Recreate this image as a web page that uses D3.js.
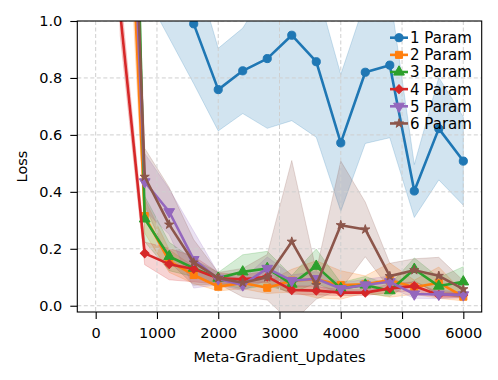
<!DOCTYPE html>
<html>
<head>
<meta charset="utf-8">
<script src="https://cdn.jsdelivr.net/npm/d3@7"></script>
<style>
  body { margin: 0; background: #fff; }
  text { font-family: "DejaVu Sans", sans-serif; }
</style>
</head>
<body>
<div id="chart"></div>
<script>
// meta-gradient update steps (x)
const updates = [0, 400, 800, 1200, 1600, 2000, 2400, 2800, 3200, 3600, 4000, 4400, 4800, 5200, 5600, 6000];

// mean loss per setting
const loss1 = [5.0, 4.0, 1.5, 1.3, 0.99, 0.759, 0.825, 0.868, 0.95, 0.857, 0.572, 0.82, 0.845, 0.403, 0.622, 0.508];
const loss2 = [5.0, 2.2, 0.315, 0.157, 0.108, 0.067, 0.08, 0.063, 0.088, 0.093, 0.073, 0.075, 0.09, 0.065, 0.081, 0.032];
const loss3 = [5.0, 3.8, 0.305, 0.173, 0.132, 0.097, 0.119, 0.131, 0.076, 0.139, 0.061, 0.073, 0.053, 0.128, 0.069, 0.084];
const loss4 = [5.0, 1.03, 0.184, 0.146, 0.129, 0.096, 0.093, 0.102, 0.055, 0.053, 0.046, 0.046, 0.061, 0.069, 0.038, 0.038];
const loss5 = [5.0, 2.4, 0.435, 0.33, 0.162, 0.094, 0.073, 0.131, 0.088, 0.095, 0.06, 0.073, 0.084, 0.041, 0.040, 0.038];
const loss6 = [5.0, 2.8, 0.453, 0.285, 0.152, 0.097, 0.081, 0.10, 0.225, 0.073, 0.283, 0.268, 0.104, 0.125, 0.105, 0.058];

// std (shaded band)
const std1 = [0.5, 0.5, 0.4, 0.36, 0.21, 0.145, 0.15, 0.245, 0.30, 0.265, 0.24, 0.25, 0.255, 0.093, 0.18, 0.155];
const std2 = [0.5, 0.3, 0.06, 0.04, 0.03, 0.015, 0.02, 0.02, 0.04, 0.065, 0.05, 0.03, 0.06, 0.025, 0.055, 0.015];
const std3 = [0.5, 0.4, 0.08, 0.05, 0.03, 0.02, 0.06, 0.06, 0.03, 0.06, 0.02, 0.03, 0.02, 0.04, 0.03, 0.053];
const std4 = [0.5, 0.08, 0.04, 0.055, 0.045, 0.02, 0.015, 0.02, 0.015, 0.015, 0.01, 0.01, 0.015, 0.015, 0.01, 0.01];
const std5 = [0.5, 0.3, 0.1, 0.08, 0.1, 0.02, 0.02, 0.04, 0.02, 0.025, 0.02, 0.02, 0.02, 0.015, 0.015, 0.01];
const std6 = [0.5, 0.3, 0.1, 0.13, 0.08, 0.02, 0.05, 0.08, 0.285, 0.05, 0.225, 0.096, 0.045, 0.04, 0.065, 0.03];

const labels = ["1 Param", "2 Param", "3 Param", "4 Param", "5 Param", "6 Param"];
const colors = ["#1f77b4", "#ff7f0e", "#2ca02c", "#d62728", "#9467bd", "#8c564b"];
const xTicks = [0, 1000, 2000, 3000, 4000, 5000, 6000];
const yTicks = [0.0, 0.2, 0.4, 0.6, 0.8, 1.0];

const means = [loss1, loss2, loss3, loss4, loss5, loss6];
const stds = [std1, std2, std3, std4, std5, std6];

// marker shapes: o s ^ D v *
const markers = [
    {type: d3.symbolCircle, size: 52, rot: 0},
    {type: d3.symbolSquare, size: 50, rot: 0},
    {type: d3.symbolTriangle, size: 50, rot: 0},
    {type: d3.symbolSquare, size: 38, rot: 45},
    {type: d3.symbolTriangle, size: 50, rot: 180},
    {type: d3.symbolStar, size: 26, rot: 0}
];

const width = 498;
const height = 380;
const plot = {left: 77.3, right: 481.7, top: 21, bottom: 312};

const svg = d3.select("#chart")
    .append("svg")
    .attr("width", width)
    .attr("height", height);

const xScale = d3.scaleLinear()
    .domain([-300, 6300])
    .range([plot.left, plot.right]);

const yScale = d3.scaleLinear()
    .domain([-0.022, 1.0])
    .range([plot.bottom, plot.top]);

svg.append("clipPath")
    .attr("id", "clip")
    .append("rect")
    .attr("x", plot.left)
    .attr("y", plot.top)
    .attr("width", plot.right - plot.left)
    .attr("height", plot.bottom - plot.top);

const series = means.map((m, i) => ({
    label: labels[i],
    color: colors[i],
    marker: markers[i],
    points: updates.map((u, j) => ({x: u, y: m[j], s: stds[i][j]}))
}));

const inner = svg.append("g").attr("clip-path", "url(#clip)");

// bands first
const area = d3.area()
    .x(d => xScale(d.x))
    .y0(d => yScale(d.y - d.s))
    .y1(d => yScale(d.y + d.s));

inner.selectAll(".band")
    .data(series)
    .enter()
    .append("path")
    .attr("class", "band")
    .attr("d", d => area(d.points))
    .attr("fill", d => d.color)
    .attr("fill-opacity", 0.2)
    .attr("stroke", d => d.color)
    .attr("stroke-opacity", 0.2)
    .attr("stroke-width", 1);

// grid
inner.selectAll(".gx")
    .data(xTicks)
    .enter()
    .append("line")
    .attr("x1", d => xScale(d))
    .attr("x2", d => xScale(d))
    .attr("y1", plot.top)
    .attr("y2", plot.bottom)
    .attr("stroke", "#cfcfcf")
    .attr("stroke-width", 1)
    .attr("stroke-dasharray", "4,2.5");

inner.selectAll(".gy")
    .data(yTicks)
    .enter()
    .append("line")
    .attr("x1", plot.left)
    .attr("x2", plot.right)
    .attr("y1", d => yScale(d))
    .attr("y2", d => yScale(d))
    .attr("stroke", "#cfcfcf")
    .attr("stroke-width", 1)
    .attr("stroke-dasharray", "4,2.5");

// lines and markers
const line = d3.line()
    .x(d => xScale(d.x))
    .y(d => yScale(d.y));

series.forEach(s => {
    inner.append("path")
        .attr("d", line(s.points))
        .attr("fill", "none")
        .attr("stroke", s.color)
        .attr("stroke-width", 2.6)
        .attr("stroke-linejoin", "round");

    inner.selectAll(null)
        .data(s.points)
        .enter()
        .append("path")
        .attr("d", d3.symbol().type(s.marker.type).size(s.marker.size))
        .attr("transform", d => `translate(${xScale(d.x)},${yScale(d.y)}) rotate(${s.marker.rot})`)
        .attr("fill", s.color)
        .attr("stroke", s.color)
        .attr("stroke-width", 1);
});

// axes
const xAxis = d3.axisBottom(xScale).tickValues(xTicks).tickSize(7).tickPadding(9).tickSizeOuter(0)
    .tickFormat(d3.format("d"));
const yAxis = d3.axisLeft(yScale).tickValues(yTicks).tickSize(7).tickPadding(8).tickSizeOuter(0)
    .tickFormat(d3.format(".1f"));

const gx = svg.append("g")
    .attr("transform", `translate(0,${plot.bottom})`)
    .call(xAxis);
const gy = svg.append("g")
    .attr("transform", `translate(${plot.left},0)`)
    .call(yAxis);

[gx, gy].forEach(g => {
    g.select(".domain").remove();
    g.selectAll(".tick line").attr("stroke", "#000").attr("stroke-width", 1.1);
    g.selectAll(".tick text")
        .attr("fill", "#000")
        .style("font-family", "DejaVu Sans")
        .style("font-size", "14.5px");
});

// frame
svg.append("rect")
    .attr("x", plot.left)
    .attr("y", plot.top)
    .attr("width", plot.right - plot.left)
    .attr("height", plot.bottom - plot.top)
    .attr("fill", "none")
    .attr("stroke", "#000")
    .attr("stroke-width", 1.1);

// axis labels
svg.append("text")
    .attr("x", (plot.left + plot.right) / 2)
    .attr("y", 361.5)
    .attr("text-anchor", "middle")
    .style("font-size", "14.5px")
    .text("Meta-Gradient_Updates");

svg.append("text")
    .attr("transform", `translate(27,${(plot.top + plot.bottom) / 2}) rotate(-90)`)
    .attr("text-anchor", "middle")
    .style("font-size", "14.5px")
    .text("Loss");

// legend
const legend = svg.append("g");
series.forEach((s, i) => {
    const ly = 37.7 + i * 17.15;
    legend.append("line")
        .attr("x1", 390)
        .attr("x2", 408)
        .attr("y1", ly)
        .attr("y2", ly)
        .attr("stroke", s.color)
        .attr("stroke-width", 2.6);
    legend.append("path")
        .attr("d", d3.symbol().type(s.marker.type).size(s.marker.size))
        .attr("transform", `translate(399,${ly}) rotate(${s.marker.rot})`)
        .attr("fill", s.color)
        .attr("stroke", s.color);
    legend.append("text")
        .attr("x", 410)
        .attr("y", ly)
        .attr("dy", "0.36em")
        .style("font-size", "15px")
        .text(s.label);
});
</script>
</body>
</html>
